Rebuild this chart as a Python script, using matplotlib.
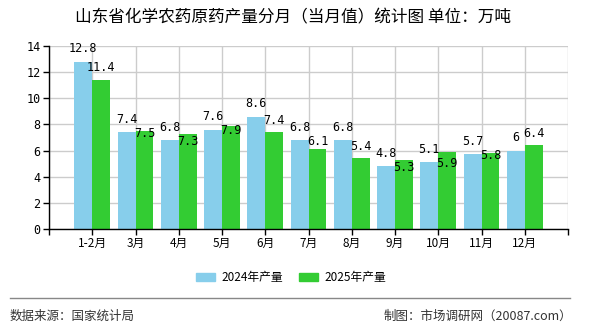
import matplotlib
matplotlib.use("Agg")
import matplotlib.pyplot as plt
from matplotlib.patches import Rectangle
from matplotlib.lines import Line2D

plt.rcParams['font.family'] = ['Noto Sans CJK SC', 'DejaVu Sans']

categories = ["1-2月", "3月", "4月", "5月", "6月", "7月", "8月", "9月", "10月", "11月", "12月"]
values_2024 = [12.8, 7.4, 6.8, 7.6, 8.6, 6.8, 6.8, 4.8, 5.1, 5.7, 6]
values_2025 = [11.4, 7.5, 7.3, 7.9, 7.4, 6.1, 5.4, 5.3, 5.9, 5.8, 6.4]
series_names = ["2024年产量", "2025年产量"]
yticks = [0, 2, 4, 6, 8, 10, 12, 14]

c24 = "#87CEEB"
c25 = "#33CC33"

fig = plt.figure(figsize=(5.9, 3.3), dpi=100)
ax = fig.add_axes([49/590, 101/330, 519/590, 183/330])

n = len(categories)
xs = list(range(1, n + 1))
w = 0.415
ax.bar([x - w/2 for x in xs], values_2024, width=w, color=c24, zorder=2)
ax.bar([x + w/2 for x in xs], values_2025, width=w, color=c25, zorder=2)

ax.set_xlim(0, n + 1)
ax.set_ylim(0, 14)
ax.set_yticks(yticks)
ax.set_yticklabels([str(t) for t in yticks], fontsize=8.5, family='DejaVu Sans Mono')
ax.set_xticks(range(0, n + 2))
ax.set_xticklabels([""] + categories + [""], fontsize=8.5)
ax.grid(True, color="#cccccc", linewidth=1, zorder=0)
for s in ["top", "right"]:
    ax.spines[s].set_visible(False)
for s in ["left", "bottom"]:
    ax.spines[s].set_color("black")
    ax.spines[s].set_linewidth(1)
ax.tick_params(axis='both', direction='out', length=4, width=1, colors='black', pad=2)

# data labels
ppu = 183 / 14.0  # pixels per unit
for x, a, b in zip(xs, values_2024, values_2025):
    la, lb = f"{a:g}", f"{b:g}"
    ya = a * ppu + 13
    yb = b * ppu + 12
    cxa = (x - w/2) * 519 / (n + 1)
    cxb = (x + w/2) * 519 / (n + 1)
    ra = cxa + len(la) * 3.3
    lbx = cxb - len(lb) * 3.3
    if ra > lbx - 1 and abs(ya - yb) < 14:
        yb = ya - 14
    ax.text(x - w/2, ya / ppu, la, ha='center', va='center', fontsize=8.5,
            family='DejaVu Sans Mono', color='black', zorder=4)
    ax.text(x + w/2, yb / ppu, lb, ha='center', va='center', fontsize=8.5,
            family='DejaVu Sans Mono', color='black', zorder=4)

# title
fig.text(0.5 - 2/590, 1 - 18/330, "山东省化学农药原药产量分月（当月值）统计图 单位：万吨",
         ha='center', va='center', fontsize=12, color='black')

# legend
handles = [Rectangle((0, 0), 1, 1, color=c24), Rectangle((0, 0), 1, 1, color=c25)]
fig.legend(handles, series_names, loc='center', bbox_to_anchor=(291/590, 1 - 278/330),
           ncol=2, frameon=False, fontsize=8.5, handlelength=1.6, handleheight=0.68,
           columnspacing=1.35, handletextpad=0.55, borderpad=0, borderaxespad=0)

# separator line
fig.add_artist(Line2D([10/590, 570/590], [1 - 298/330, 1 - 298/330],
                      color="#888888", linewidth=1, transform=fig.transFigure))

fig.text(10/590, 1 - 316/330, "数据来源：国家统计局", ha='left', va='center',
         fontsize=9, color='#333333')
fig.text(572/590, 1 - 316/330, "制图：市场调研网（20087.com）", ha='right', va='center',
         fontsize=9, color='#333333')

fig.savefig("out.png", dpi=100)
